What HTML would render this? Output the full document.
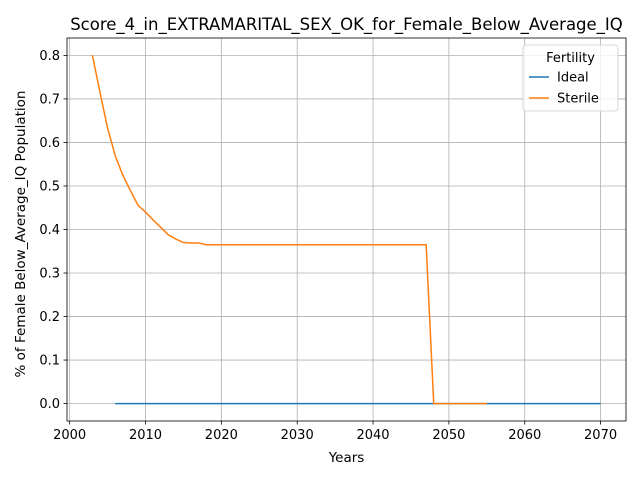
<!DOCTYPE html>
<html><head><meta charset="utf-8"><style>
body{margin:0;background:#fff}
svg text{font-family:"DejaVu Sans","Liberation Sans",sans-serif;fill:#000}
</style></head><body>
<svg id="c" width="640" height="480" xmlns="http://www.w3.org/2000/svg"></svg>
<script>
const xTicks=[2000,2010,2020,2030,2040,2050,2060,2070];
const yTicks=[0,0.1,0.2,0.3,0.4,0.5,0.6,0.7,0.8];
const idealYears=[2006,2070];
const idealValues=[0,0];
const sterileYears=[2003,2004,2005,2006,2007,2008,2009,2010,2011,2012,2013,2014,2015,2016,2017,2018,2047,2048,2055];
const sterileValues=[0.8,0.715,0.633,0.57,0.525,0.49,0.456,0.44,0.422,0.405,0.388,0.378,0.37,0.369,0.369,0.365,0.365,0,0];
const L=67,R=626,T=38,B=421;
const x0=1999.65,x1=2073.35,y0=-0.04,y1=0.84;
const X=v=>L+(v-x0)/(x1-x0)*(R-L);
const Y=v=>B-(v-y0)/(y1-y0)*(B-T);
const svg=document.getElementById('c');
const NS='http://www.w3.org/2000/svg';
function mk(t,a,txt){const e=document.createElementNS(NS,t);for(const k in a)e.setAttribute(k,a[k]);if(txt!=null)e.textContent=txt;svg.appendChild(e);return e;}
xTicks.forEach(v=>{
 const g=mk('line',{x1:X(v),x2:X(v),y1:T,y2:B,stroke:'#b0b0b0','stroke-width':0.8});
 
 
 mk('line',{x1:X(v),x2:X(v),y1:B,y2:B+3.5,stroke:'#000','stroke-width':0.8});
 const t=mk('text',{x:X(v),y:B+18,'font-size':13,'text-anchor':'middle'},String(v));
 
 
});
yTicks.forEach(v=>{
 const g=mk('line',{x1:L,x2:R,y1:Y(v),y2:Y(v),stroke:'#b0b0b0','stroke-width':0.8});
 
 
 mk('line',{x1:L-3.5,x2:L,y1:Y(v),y2:Y(v),stroke:'#000','stroke-width':0.8});
 const t=mk('text',{x:L-7,y:Y(v)+4.5,'font-size':13,'text-anchor':'end'},v.toFixed(1));
 
 
});
function line(xs,ys,c,n){
 const p=mk('polyline',{points:xs.map((v,i)=>X(v)+','+Y(ys[i])).join(' '),fill:'none',stroke:c,'stroke-width':1.5});
 
 
}
line(idealYears,idealValues,'#1f77b4','ideal-line');
line(sterileYears,sterileValues,'#ff7f0e','sterile-line');
const f=mk('rect',{x:L,y:T,width:R-L,height:B-T,fill:'none',stroke:'#000','stroke-width':0.8});


const ti=mk('text',{x:(L+R)/2,y:T-8,'font-size':16.5,'text-anchor':'middle'},'Score_4_in_EXTRAMARITAL_SEX_OK_for_Female_Below_Average_IQ');


const xl=mk('text',{x:(L+R)/2,y:462,'font-size':13.5,'text-anchor':'middle'},'Years');


const yl=mk('text',{x:0,y:0,'font-size':13.5,'text-anchor':'middle',transform:`translate(25,234) rotate(-90)`},'% of Female Below_Average_IQ Population');


const lg=mk('rect',{x:523,y:45,width:95,height:66,rx:3,fill:'#fff','fill-opacity':0.8,stroke:'#ccc','stroke-width':0.8});


const lt=mk('text',{x:570.5,y:62,'font-size':13,'text-anchor':'middle'},'Fertility');


[['Ideal','#1f77b4',77],['Sterile','#ff7f0e',98]].forEach(([n,c,y])=>{
 mk('line',{x1:529,x2:549,y1:y,y2:y,stroke:c,'stroke-width':1.5});
 const t=mk('text',{x:557,y:y+4.5,'font-size':13},n);
 
 
});
</script>
</body></html>
